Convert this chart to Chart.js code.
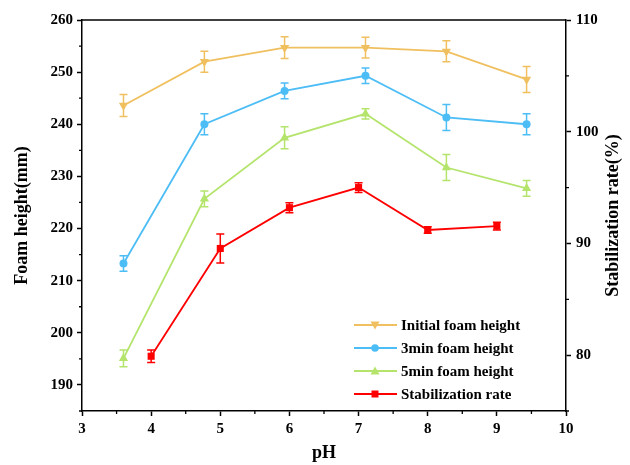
<!DOCTYPE html>
<html>
<head>
<meta charset="utf-8">
<script src="https://cdn.jsdelivr.net/npm/chart.js@4/dist/chart.umd.min.js"></script>
<style>
  html, body { margin: 0; padding: 0; background: #fff; }
</style>
</head>
<body>
<canvas id="chart" width="630" height="465"></canvas>
<script>
// pH values
const phFoam = [3.6, 4.77, 5.93, 7.1, 8.27, 9.43];
const phStab = [4, 5, 6, 7, 8, 9];

// foam heights (mm) and error bars
const initialFoam = [243.6, 252.0, 254.7, 254.7, 254.0, 248.6];
const initialErr  = [2.1, 2.0, 2.1, 2.0, 2.0, 2.5];
const foam3min    = [213.3, 240.0, 246.4, 249.3, 241.3, 240.0];
const foam3Err    = [1.5, 2.0, 1.5, 1.5, 2.5, 2.0];
const foam5min    = [195.1, 225.7, 237.4, 242.0, 231.7, 227.7];
const foam5Err    = [1.6, 1.5, 2.1, 1.0, 2.5, 1.5];

// stabilization rate (%)
const stabRate = [79.9, 89.55, 93.2, 95.0, 91.2, 91.55];
const stabErr  = [0.55, 1.3, 0.45, 0.43, 0.3, 0.35];

const seriesNames = ['Initial foam height', '3min foam height', '5min foam height', 'Stabilization rate'];
const colors = ['#F0C060', '#4DBDF6', '#B4E46C', '#FF0000'];
const rightTitle = 'Stabilization rate(%)';

const FONT = "'Times New Roman', 'Liberation Serif', serif";
const pts = (xs, ys) => xs.map((x, i) => ({ x, y: ys[i] }));

const errorBars = {
  id: 'errorBars',
  afterDatasetsDraw(chart) {
    const ctx = chart.ctx, xs = chart.scales.x;
    chart.data.datasets.forEach(ds => {
      const ys = chart.scales[ds.yAxisID];
      ctx.save();
      ctx.strokeStyle = ds.borderColor;
      ctx.lineWidth = 1.5;
      ctx.beginPath();
      ds.data.forEach((p, j) => {
        const e = ds.errors[j];
        const x = xs.getPixelForValue(p.x);
        const y1 = ys.getPixelForValue(p.y + e), y2 = ys.getPixelForValue(p.y - e);
        ctx.moveTo(x, y1); ctx.lineTo(x, y2);
        ctx.moveTo(x - 4, y1); ctx.lineTo(x + 4, y1);
        ctx.moveTo(x - 4, y2); ctx.lineTo(x + 4, y2);
      });
      ctx.stroke();
      ctx.restore();
    });
  }
};

function marker(ctx, kind, x, y) {
  ctx.beginPath();
  if (kind === 'down') { ctx.moveTo(x - 4.5, y - 3.5); ctx.lineTo(x + 4.5, y - 3.5); ctx.lineTo(x, y + 4.5); }
  else if (kind === 'up') { ctx.moveTo(x - 4.5, y + 3.5); ctx.lineTo(x + 4.5, y + 3.5); ctx.lineTo(x, y - 4.5); }
  else if (kind === 'circle') ctx.arc(x, y, 3.8, 0, Math.PI * 2);
  else ctx.rect(x - 3.5, y - 3.5, 7, 7);
  ctx.closePath();
  ctx.fill();
}

const framePlugin = {
  id: 'frame',
  afterDraw(chart) {
    const { ctx, chartArea: a, scales } = chart;
    ctx.save();
    ctx.strokeStyle = '#000';
    ctx.lineWidth = 1.5;
    ctx.beginPath();
    ctx.moveTo(a.left, a.top); ctx.lineTo(a.right, a.top);
    ctx.stroke();

    // minor ticks
    ctx.lineWidth = 1.3;
    ctx.beginPath();
    scales.x.ticks.forEach(t => {
      if (t.value % 1 !== 0) {
        const x = scales.x.getPixelForValue(t.value);
        ctx.moveTo(x, a.bottom); ctx.lineTo(x, a.bottom + 3);
      }
    });
    scales.y.ticks.forEach(t => {
      if (t.value % 10 !== 0) {
        const y = scales.y.getPixelForValue(t.value);
        ctx.moveTo(a.left, y); ctx.lineTo(a.left - 3, y);
      }
    });
    scales.y2.ticks.forEach(t => {
      if (t.value % 10 !== 0) {
        const y = scales.y2.getPixelForValue(t.value);
        ctx.moveTo(a.right, y); ctx.lineTo(a.right + 3, y);
      }
    });
    ctx.stroke();

    // right axis title, reading bottom to top
    ctx.save();
    ctx.translate(a.right + 47, (a.top + a.bottom) / 2);
    ctx.rotate(-Math.PI / 2);
    ctx.font = 'bold 18px ' + FONT;
    ctx.fillStyle = '#000';
    ctx.textAlign = 'center';
    ctx.textBaseline = 'middle';
    ctx.fillText(rightTitle, 0, 0);
    ctx.restore();

    // legend
    const kinds = ['down', 'circle', 'up', 'square'];
    ctx.font = 'bold 15px ' + FONT;
    ctx.textBaseline = 'middle';
    seriesNames.forEach((name, i) => {
      const y = a.bottom - 86 + i * 23;
      ctx.strokeStyle = colors[i];
      ctx.fillStyle = colors[i];
      ctx.lineWidth = 1.8;
      ctx.beginPath();
      ctx.moveTo(a.right - 212, y); ctx.lineTo(a.right - 169, y);
      ctx.stroke();
      marker(ctx, kinds[i], a.right - 191, y);
      ctx.fillStyle = '#000';
      ctx.fillText(name, a.right - 165, y + 1);
    });
    ctx.restore();
  }
};

const tickFont = { family: FONT, size: 15, weight: 'bold' };
const titleFont = { family: FONT, size: 18, weight: 'bold' };

new Chart(document.getElementById('chart'), {
  type: 'line',
  data: {
    datasets: [
      { label: seriesNames[0], data: pts(phFoam, initialFoam), errors: initialErr, yAxisID: 'y',
        borderColor: colors[0], backgroundColor: colors[0], pointStyle: 'triangle', rotation: 180, pointRadius: 5.3 },
      { label: seriesNames[1], data: pts(phFoam, foam3min), errors: foam3Err, yAxisID: 'y',
        borderColor: colors[1], backgroundColor: colors[1], pointStyle: 'circle', pointRadius: 4 },
      { label: seriesNames[2], data: pts(phFoam, foam5min), errors: foam5Err, yAxisID: 'y',
        borderColor: colors[2], backgroundColor: colors[2], pointStyle: 'triangle', pointRadius: 5.3 },
      { label: seriesNames[3], data: pts(phStab, stabRate), errors: stabErr, yAxisID: 'y2',
        borderColor: colors[3], backgroundColor: colors[3], pointStyle: 'rect', pointRadius: 5 }
    ]
  },
  options: {
    responsive: false,
    animation: false,
    devicePixelRatio: 1,
    layout: { padding: { top: 20, left: 0, right: 0, bottom: 0 } },
    elements: {
      line: { borderWidth: 1.8, tension: 0 },
      point: { borderWidth: 0 }
    },
    plugins: { legend: { display: false }, tooltip: { enabled: false } },
    scales: {
      x: {
        type: 'linear', min: 3, max: 10,
        afterFit: s => { s.height = 54; },
        border: { display: true, color: '#000', width: 1.5 },
        grid: { drawOnChartArea: false, tickLength: 5, tickWidth: 1.5,
                tickColor: c => (c.tick && c.tick.value % 1 === 0) ? '#000' : 'rgba(0,0,0,0)' },
        ticks: { stepSize: 0.5, autoSkip: false, maxRotation: 0, color: '#000', font: tickFont, padding: 4,
                 callback: v => v % 1 === 0 ? v : '' },
        title: { display: true, text: 'pH', color: '#000', font: titleFont, padding: { top: 0, bottom: 1 } }
      },
      y: {
        position: 'left', min: 185, max: 260,
        afterFit: s => { s.width = 82; },
        border: { display: true, color: '#000', width: 1.5 },
        grid: { drawOnChartArea: false, tickLength: 5, tickWidth: 1.5,
                tickColor: c => (c.tick && c.tick.value % 10 === 0) ? '#000' : 'rgba(0,0,0,0)' },
        ticks: { stepSize: 5, autoSkip: false, color: '#000', font: tickFont, padding: 4,
                 callback: v => v % 10 === 0 ? v : '' },
        title: { display: true, text: 'Foam height(mm)', color: '#000', font: titleFont, padding: { top: 12, bottom: 0 } }
      },
      y2: {
        position: 'right', min: 75, max: 110,
        afterFit: s => { s.width = 64; },
        border: { display: true, color: '#000', width: 1.5 },
        grid: { drawOnChartArea: false, tickLength: 5, tickWidth: 1.5,
                tickColor: c => (c.tick && c.tick.value % 10 === 0) ? '#000' : 'rgba(0,0,0,0)' },
        ticks: { stepSize: 5, autoSkip: false, color: '#000', font: tickFont, padding: 5,
                 callback: v => v % 10 === 0 ? v : '' },
        title: { display: false }
      }
    }
  },
  plugins: [errorBars, framePlugin]
});
</script>
</body>
</html>
